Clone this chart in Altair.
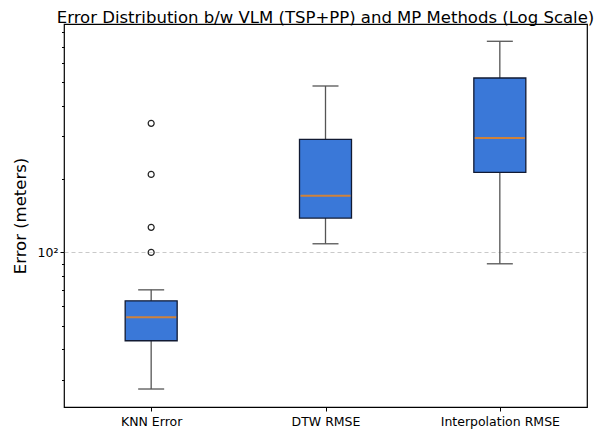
import altair as alt
import pandas as pd

methods = ["KNN Error", "DTW RMSE", "Interpolation RMSE"]
whisker_low = [27.5, 108.5, 89.8]
q1 = [43.4, 138.3, 213.1]
median = [54.2, 170.8, 294.7]
q3 = [63.3, 291.0, 519.8]
whisker_high = [70.2, 482.0, 735.5]

outlier_method = ["KNN Error", "KNN Error", "KNN Error", "KNN Error"]
outlier_value = [100.0, 126.7, 209.0, 338.7]

minor_ticks = [30, 40, 50, 60, 70, 80, 90, 100, 200, 300, 400, 500, 600, 700, 800]

box_df = pd.DataFrame({
    "method": methods, "lo": whisker_low, "q1": q1, "med": median,
    "q3": q3, "hi": whisker_high,
})
out_df = pd.DataFrame({"method": outlier_method, "value": outlier_value})

FONT = "DejaVu Sans"
W, H = 523, 383

xenc = alt.X("method:N", sort=methods,
             scale=alt.Scale(type="point", padding=0.5),
             axis=alt.Axis(title=None, labelAngle=0, labelFontSize=12.5,
                           labelColor="#000", labelFont=FONT, tickSize=4,
                           tickColor="#000", domain=False, labelPadding=4))
yscale = alt.Scale(type="log", domain=[23.2, 866], nice=False)
yaxis = alt.Axis(
    title="Error (meters)", titleFontSize=16.5, titleFont=FONT,
    titleFontWeight="normal", titleColor="#000", titlePadding=9,
    values=minor_ticks,
    labelExpr="datum.value == 100 ? '10²' : ''",
    labelFontSize=12.5, labelFont=FONT, labelColor="#000",
    tickColor="#000",
    tickSize={"condition": {"test": "datum.value == 100", "value": 4}, "value": 2.5},
    domain=False, grid=True, gridColor="#bbbbbb", gridDash=[4, 3],
    gridWidth=0.8,
    gridOpacity={"condition": {"test": "datum.value == 100", "value": 1}, "value": 0},
)

base = alt.Chart(box_df)

whiskers = base.mark_rule(color="#555555", strokeWidth=1.3).encode(
    x=xenc, y=alt.Y("lo:Q", scale=yscale, axis=yaxis), y2="hi:Q")
caps_lo = base.mark_tick(color="#555555", size=26, thickness=1.3, orient="horizontal",
                         opacity=1).encode(
    x=alt.X("method:N", sort=methods), y="lo:Q")
caps_hi = base.mark_tick(color="#555555", size=26, thickness=1.3, orient="horizontal",
                         opacity=1).encode(
    x=alt.X("method:N", sort=methods), y="hi:Q")
boxes = base.mark_bar(size=52, color="#3a78d8", stroke="#111a33", strokeWidth=1.3,
                      opacity=1).encode(
    x=alt.X("method:N", sort=methods), y="q1:Q", y2="q3:Q")
medians = base.mark_tick(color="#d0823a", size=50, thickness=2, orient="horizontal",
                         opacity=1).encode(
    x=alt.X("method:N", sort=methods), y="med:Q")
outliers = alt.Chart(out_df).mark_point(shape="circle", size=36, filled=False,
                                         color="#222222", strokeWidth=1.2, opacity=1).encode(
    x=alt.X("method:N", sort=methods), y="value:Q")

chart = alt.layer(whiskers, caps_lo, caps_hi, boxes, medians, outliers).properties(
    width=W, height=H,
    title=alt.Title("Error Distribution b/w VLM (TSP+PP) and MP Methods (Log Scale)",
                    fontSize=16.5, font=FONT, fontWeight="normal", color="#000",
                    anchor="middle", offset=-2),
    autosize=alt.AutoSizeParams(type="none"),
    padding={"left": 56, "top": 16, "right": 18, "bottom": 22},
).configure(background="white").configure_view(stroke="#000", strokeWidth=1.2)

chart.save("out.html", embed_options={"renderer": "svg", "actions": False})
